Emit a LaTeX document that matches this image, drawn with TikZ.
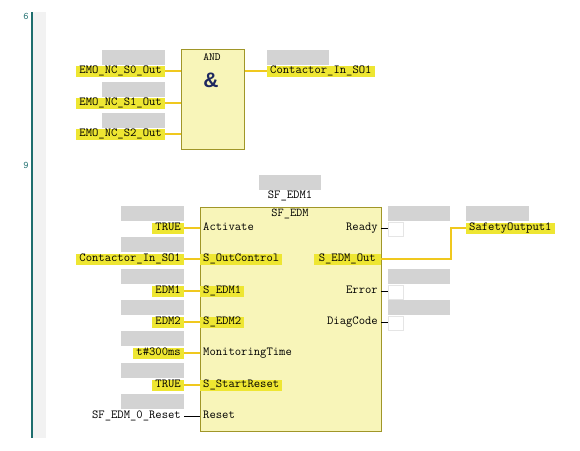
\documentclass[tikz,border=0pt]{standalone}
\usepackage{fontspec}
\newfontfamily\mono{Latin Modern Mono}
\newfontfamily\sans{Liberation Sans}
\definecolor{hly}{RGB}{238,230,50}
\definecolor{wire}{RGB}{240,200,30}
\definecolor{gbx}{RGB}{211,211,211}
\definecolor{fbfill}{RGB}{248,245,185}
\definecolor{fbdraw}{RGB}{160,150,40}
\definecolor{netline}{RGB}{30,110,110}
\definecolor{strip}{RGB}{242,242,242}
\definecolor{ampc}{RGB}{30,40,95}
\tikzset{
  lbl/.style={font=\mono\fontsize{12.3}{13}\selectfont, inner xsep=3pt, inner ysep=0pt,
    minimum height=11pt, text height=8pt, text depth=2.5pt},
  hl/.style={lbl, fill=hly},
  ttl/.style={font=\mono\bfseries\fontsize{12}{13}\selectfont, inner sep=0pt},
  gph/.style={fill=gbx, minimum width=63pt, minimum height=15pt, inner sep=0pt},
  ywire/.style={draw=wire, line width=2pt},
  bwire/.style={draw=black, line width=0.9pt},
  fb/.style={draw=fbdraw, fill=fbfill, line width=1pt, inner sep=0pt},
  obox/.style={draw=gbx!60, fill=white, line width=0.8pt, minimum width=15pt, minimum height=14pt, inner sep=0pt},
  netno/.style={font=\mono\fontsize{10}{11}\selectfont, text=netline, inner sep=0pt},
}
\begin{document}
\begin{tikzpicture}[x=1pt,y=-1pt]
\useasboundingbox (0,0) rectangle (580,450);
% left rail
\fill[strip] (32,12) rectangle (46,438);
\draw[netline, line width=2pt] (31.5,12) -- (31.5,438);
\node[netno] (n6) at (26,16) {6};
\node[netno] (n9) at (26,165) {9};

% ---------- network 6 : AND ----------
\node[fb, minimum width=63pt, minimum height=100pt, anchor=north west] (and) at (181,49) {};
\node[ttl, font=\mono\bfseries\fontsize{11}{12}\selectfont] (andt) at (212,57) {AND};
\node[font=\sans\bfseries\fontsize{21}{21}\selectfont, text=ampc, inner sep=0pt] (amp) at (211,80) {\&};

\node[gph, anchor=south east] (g0) at (165,65) {};
\node[hl, anchor=east] (e0) at (165,71) {EMO\_NC\_S0\_Out};
\node[gph, anchor=south east] (g1) at (165,97) {};
\node[hl, anchor=east] (e1) at (165,103) {EMO\_NC\_S1\_Out};
\node[gph, anchor=south east] (g2) at (165,128) {};
\node[hl, anchor=east] (e2) at (165,134) {EMO\_NC\_S2\_Out};
\draw[ywire] (e0.east) -- (e0.east -| and.west);
\draw[ywire] (e1.east) -- (e1.east -| and.west);
\draw[ywire] (e2.east) -- (e2.east -| and.west);

\node[gph, anchor=south west, minimum width=62pt] (gc) at (267,65) {};
\node[hl, anchor=west] (c1) at (267,71) {Contactor\_In\_SO1};
\draw[ywire] (c1.west -| and.east) -- (c1.west);

% ---------- network 9 : SF_EDM ----------
\node[gph, minimum width=62pt] (gi) at (290,182) {};
\node[lbl] (inst) at (290,196) {SF\_EDM1};
\node[fb, minimum width=181pt, minimum height=224pt, anchor=north west] (edm) at (200,207) {};
\node[ttl] (edmt) at (290,214) {SF\_EDM};

% inputs
\node[gph, anchor=south east] (ga) at (184,221) {};
\node[hl, anchor=east] (v1) at (184,228) {TRUE};
\node[lbl, anchor=west] (p1) at (200,228) {Activate};
\draw[ywire] (v1.east) -- (p1.west);

\node[gph, anchor=south east] (gb) at (184,252) {};
\node[hl, anchor=east] (v2) at (184,259) {Contactor\_In\_SO1};
\node[hl, anchor=west] (p2) at (200,259) {S\_OutControl};
\draw[ywire] (v2.east) -- (p2.west);

\node[gph, anchor=south east] (gcc) at (184,284) {};
\node[hl, anchor=east] (v3) at (184,291) {EDM1};
\node[hl, anchor=west] (p3) at (200,291) {S\_EDM1};
\draw[ywire] (v3.east) -- (p3.west);

\node[gph, anchor=south east] (gd) at (184,315) {};
\node[hl, anchor=east] (v4) at (184,322) {EDM2};
\node[hl, anchor=west] (p4) at (200,322) {S\_EDM2};
\draw[ywire] (v4.east) -- (p4.west);

\node[gph, anchor=south east] (ge) at (184,346) {};
\node[hl, anchor=east] (v5) at (184,353) {t\#300ms};
\node[lbl, anchor=west] (p5) at (200,353) {MonitoringTime};
\draw[ywire] (v5.east) -- (p5.west);

\node[gph, anchor=south east] (gf) at (184,378) {};
\node[hl, anchor=east] (v6) at (184,385) {TRUE};
\node[hl, anchor=west] (p6) at (200,385) {S\_StartReset};
\draw[ywire] (v6.east) -- (p6.west);

\node[gph, anchor=south east] (gg) at (184,409) {};
\node[lbl, anchor=east] (v7) at (184,416) {SF\_EDM\_0\_Reset};
\node[lbl, anchor=west] (p7) at (200,416) {Reset};
\draw[bwire] (v7.east) -- (p7.west);

% outputs
\node[lbl, anchor=east] (o1) at (381,228) {Ready};
\node[gph, anchor=south west, minimum width=62pt] (h1) at (388,221) {};
\node[obox, anchor=west] (ob1) at (388,229) {};
\draw[bwire] (o1.east) -- (o1.east -| ob1.west);

\node[hl, anchor=east, inner xsep=5pt] (o2) at (381,259) {S\_EDM\_Out};
\node[gph, anchor=south west] (h2) at (466,221) {};
\node[hl, anchor=west] (so) at (466,228) {SafetyOutput1};
\draw[ywire] (o2.east) -- ++(70,0) |- (so.west);

\node[lbl, anchor=east] (o3) at (381,291) {Error};
\node[gph, anchor=south west, minimum width=62pt] (h3) at (388,284) {};
\node[obox, anchor=west] (ob3) at (388,292) {};
\draw[bwire] (o3.east) -- (o3.east -| ob3.west);

\node[lbl, anchor=east] (o4) at (381,322) {DiagCode};
\node[gph, anchor=south west, minimum width=62pt] (h4) at (388,315) {};
\node[obox, anchor=west] (ob4) at (388,323) {};
\draw[bwire] (o4.east) -- (o4.east -| ob4.west);
\end{tikzpicture}
\end{document}
